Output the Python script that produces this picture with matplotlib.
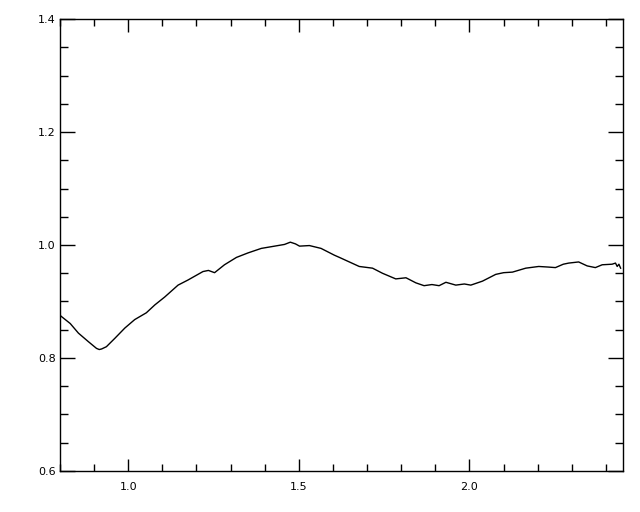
import matplotlib
matplotlib.use("Agg")
import matplotlib.pyplot as plt
from matplotlib.ticker import MultipleLocator, FormatStrFormatter

# Curve
wavelength = [0.800, 0.803, 0.830, 0.854, 0.883, 0.907, 0.915, 0.922, 0.936, 0.961,
              0.990, 1.019, 1.053, 1.078, 1.107, 1.146, 1.175, 1.219, 1.235, 1.253,
              1.282, 1.317, 1.351, 1.390, 1.429, 1.458, 1.475, 1.490, 1.502, 1.531,
              1.565, 1.604, 1.619, 1.648, 1.677, 1.716, 1.745, 1.784, 1.814, 1.843,
              1.867, 1.890, 1.911, 1.931, 1.960, 1.985, 2.004, 2.038, 2.077, 2.100,
              2.126, 2.165, 2.203, 2.230, 2.252, 2.275, 2.291, 2.320, 2.345, 2.369,
              2.389, 2.418, 2.428, 2.433, 2.438, 2.443]
flux = [0.876, 0.874, 0.861, 0.844, 0.829, 0.817, 0.815, 0.816, 0.820, 0.835,
        0.853, 0.868, 0.880, 0.894, 0.908, 0.929, 0.938, 0.953, 0.955, 0.951,
        0.965, 0.978, 0.986, 0.994, 0.998, 1.001, 1.005, 1.002, 0.998, 0.999,
        0.994, 0.982, 0.978, 0.970, 0.962, 0.959, 0.950, 0.940, 0.942, 0.933,
        0.928, 0.930, 0.928, 0.934, 0.929, 0.931, 0.929, 0.936, 0.948, 0.951,
        0.952, 0.959, 0.962, 0.961, 0.960, 0.966, 0.968, 0.970, 0.963, 0.960,
        0.965, 0.966, 0.968, 0.962, 0.966, 0.959]

x_range = [0.8, 2.45]
y_range = [0.6, 1.4]
x_major = 0.5
x_minor = 0.1
y_major = 0.2
y_minor = 0.05

fig = plt.figure(figsize=(6.4, 5.12), dpi=100)
ax = fig.add_axes([60/640, 1 - 471/512, (623 - 60)/640, (471 - 19)/512])
ax.plot(wavelength, flux, color="black", lw=1.0)

ax.set_xlim(*x_range)
ax.set_ylim(*y_range)
ax.xaxis.set_major_locator(MultipleLocator(x_major))
ax.xaxis.set_minor_locator(MultipleLocator(x_minor))
ax.yaxis.set_major_locator(MultipleLocator(y_major))
ax.yaxis.set_minor_locator(MultipleLocator(y_minor))
ax.xaxis.set_major_formatter(FormatStrFormatter("%.1f"))
ax.yaxis.set_major_formatter(FormatStrFormatter("%.1f"))

ax.tick_params(axis="both", which="both", direction="in", top=True, right=True,
               width=1.0, colors="black", labelsize=8)
ax.tick_params(axis="x", which="major", length=9, pad=8)
ax.tick_params(axis="x", which="minor", length=5)
ax.tick_params(axis="y", which="major", length=11, pad=3)
ax.tick_params(axis="y", which="minor", length=6)
for s in ax.spines.values():
    s.set_linewidth(1.0)

fig.savefig("out.png", dpi=100)
